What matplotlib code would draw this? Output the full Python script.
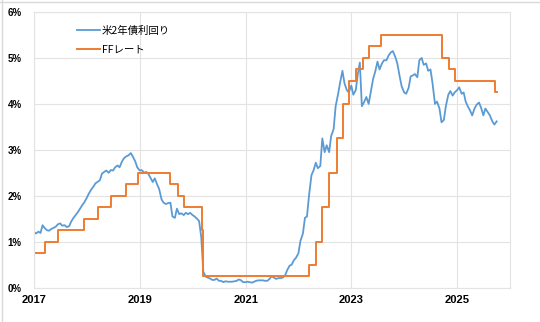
import matplotlib
matplotlib.use("Agg")
import matplotlib.pyplot as plt
import matplotlib.ticker as ticker
import matplotlib.dates as mdates
import pandas as pd
from matplotlib.lines import Line2D

# US 2-year treasury yield, two readings per month (1st and 15th), Jan 2017 - Oct 2025
y2 = [
    # 2017
    1.21, 1.18, 1.22, 1.19, 1.36, 1.30, 1.25, 1.24, 1.28, 1.30, 1.33, 1.38,
    1.40, 1.35, 1.36, 1.32, 1.34, 1.44, 1.52, 1.58, 1.65, 1.72, 1.80, 1.86,
    # 2018
    1.96, 2.05, 2.14, 2.20, 2.27, 2.30, 2.34, 2.48, 2.52, 2.55, 2.50, 2.56,
    2.55, 2.62, 2.66, 2.62, 2.75, 2.82, 2.86, 2.88, 2.93, 2.85, 2.75, 2.62,
    # 2019
    2.55, 2.56, 2.50, 2.52, 2.48, 2.40, 2.30, 2.38, 2.25, 2.15, 1.92, 1.85,
    1.82, 1.84, 1.85, 1.55, 1.52, 1.72, 1.60, 1.62, 1.58, 1.63, 1.60, 1.63,
    # 2020
    1.58, 1.55, 1.50, 1.45, 1.10, 0.35, 0.24, 0.22, 0.20, 0.17, 0.17, 0.20,
    0.15, 0.15, 0.12, 0.14, 0.13, 0.13, 0.13, 0.14, 0.15, 0.18, 0.16, 0.12,
    # 2021
    0.12, 0.13, 0.12, 0.11, 0.13, 0.15, 0.16, 0.16, 0.16, 0.15, 0.15, 0.19,
    0.25, 0.22, 0.19, 0.21, 0.21, 0.22, 0.27, 0.38, 0.48, 0.50, 0.60, 0.65,
    # 2022
    0.75, 1.02, 1.18, 1.52, 1.55, 2.00, 2.45, 2.55, 2.72, 2.60, 2.65, 3.25,
    2.95, 3.10, 2.95, 3.30, 3.45, 3.95, 4.20, 4.45, 4.72, 4.45, 4.30, 4.25,
    # 2023
    4.40, 4.20, 4.30, 4.65, 4.90, 3.95, 4.05, 4.15, 4.00, 4.25, 4.55, 4.70,
    4.92, 4.75, 4.88, 4.95, 4.95, 5.05, 5.12, 5.15, 5.02, 4.88, 4.60, 4.38,
    # 2024
    4.25, 4.22, 4.35, 4.60, 4.62, 4.65, 4.58, 4.95, 5.00, 4.85, 4.88, 4.72,
    4.75, 4.45, 4.00, 4.05, 3.90, 3.60, 3.65, 3.95, 4.20, 4.28, 4.18, 4.25,
    # 2025
    4.30, 4.36, 4.22, 4.25, 4.05, 3.95, 3.85, 3.75, 3.90, 3.98, 4.03, 3.92,
    3.75, 3.90, 3.82, 3.75, 3.62, 3.55, 3.62,
]
y2_dates = pd.date_range("2017-01-01", periods=len(y2), freq="SMS")

# Fed funds target (upper bound), change dates
ff_dates = pd.to_datetime([
    "2017-01-01", "2017-03-16", "2017-06-15", "2017-12-14", "2018-03-22",
    "2018-06-14", "2018-09-27", "2018-12-20", "2019-08-01", "2019-09-19",
    "2019-10-31", "2020-03-04", "2020-03-16", "2022-03-17", "2022-05-05",
    "2022-06-16", "2022-07-28", "2022-09-22", "2022-11-03", "2022-12-15",
    "2023-02-02", "2023-03-23", "2023-05-04", "2023-07-27", "2024-09-19",
    "2024-11-08", "2024-12-19", "2025-09-18", "2025-10-01",
])
ff_rate = [0.75, 1.00, 1.25, 1.50, 1.75, 2.00, 2.25, 2.50, 2.25, 2.00,
           1.75, 1.25, 0.25, 0.50, 1.00, 1.75, 2.50, 3.25, 4.00, 4.50,
           4.75, 5.00, 5.25, 5.50, 5.00, 4.75, 4.50, 4.25, 4.25]

labels = ["米2年債利回り", "FFレート"]
year_ticks = pd.to_datetime(["2017-01-01", "2019-01-01", "2021-01-01", "2023-01-01", "2025-01-01"])

plt.rcParams["font.family"] = ["Noto Sans CJK JP", "DejaVu Sans"]
blue = "#5b9bd5"
orange = "#ed7d31"
gridc = "#e3e3e3"

fig = plt.figure(figsize=(5.4, 3.22), dpi=100)
ax = fig.add_axes([34 / 540, 1 - 287.7 / 322, 476 / 540, (287.7 - 12) / 322])

ax.plot(y2_dates, y2, color=blue, lw=1.3, label=labels[0])
ax.plot(ff_dates, ff_rate, color=orange, lw=1.4, drawstyle="steps-post", label=labels[1])

ax.set_xlim(pd.Timestamp("2017-01-01"), pd.Timestamp("2026-01-01"))
ax.set_ylim(0, 6)
ax.set_xticks(year_ticks)
ax.xaxis.set_major_formatter(mdates.DateFormatter("%Y"))
ax.yaxis.set_major_locator(ticker.MultipleLocator(1))
ax.yaxis.set_major_formatter(ticker.FuncFormatter(lambda v, p: f"{v:.0f}%"))
ax.tick_params(axis="x", length=0, labelsize=8, pad=5)
ax.tick_params(axis="y", length=0, labelsize=7, pad=9)
for lbl in ax.get_xticklabels() + ax.get_yticklabels():
    lbl.set_family(["Liberation Sans", "DejaVu Sans"])
    lbl.set_fontweight("bold")
ax.grid(True, color=gridc, lw=0.8)
ax.set_axisbelow(True)
for s in ax.spines.values():
    s.set_color(gridc)
    s.set_linewidth(0.8)

ax.legend(loc="upper left", bbox_to_anchor=(0.07, 0.985), frameon=False,
          fontsize=7.5, handlelength=2.2, handletextpad=0.2, labelspacing=0.9)

# thin border along top and left of the image
fig.add_artist(Line2D([0, 1], [0.995, 0.995], color="#d9d9d9", lw=1, transform=fig.transFigure))
fig.add_artist(Line2D([0.004, 0.004], [0, 1], color="#d9d9d9", lw=1, transform=fig.transFigure))

fig.savefig("out.png", dpi=100)
